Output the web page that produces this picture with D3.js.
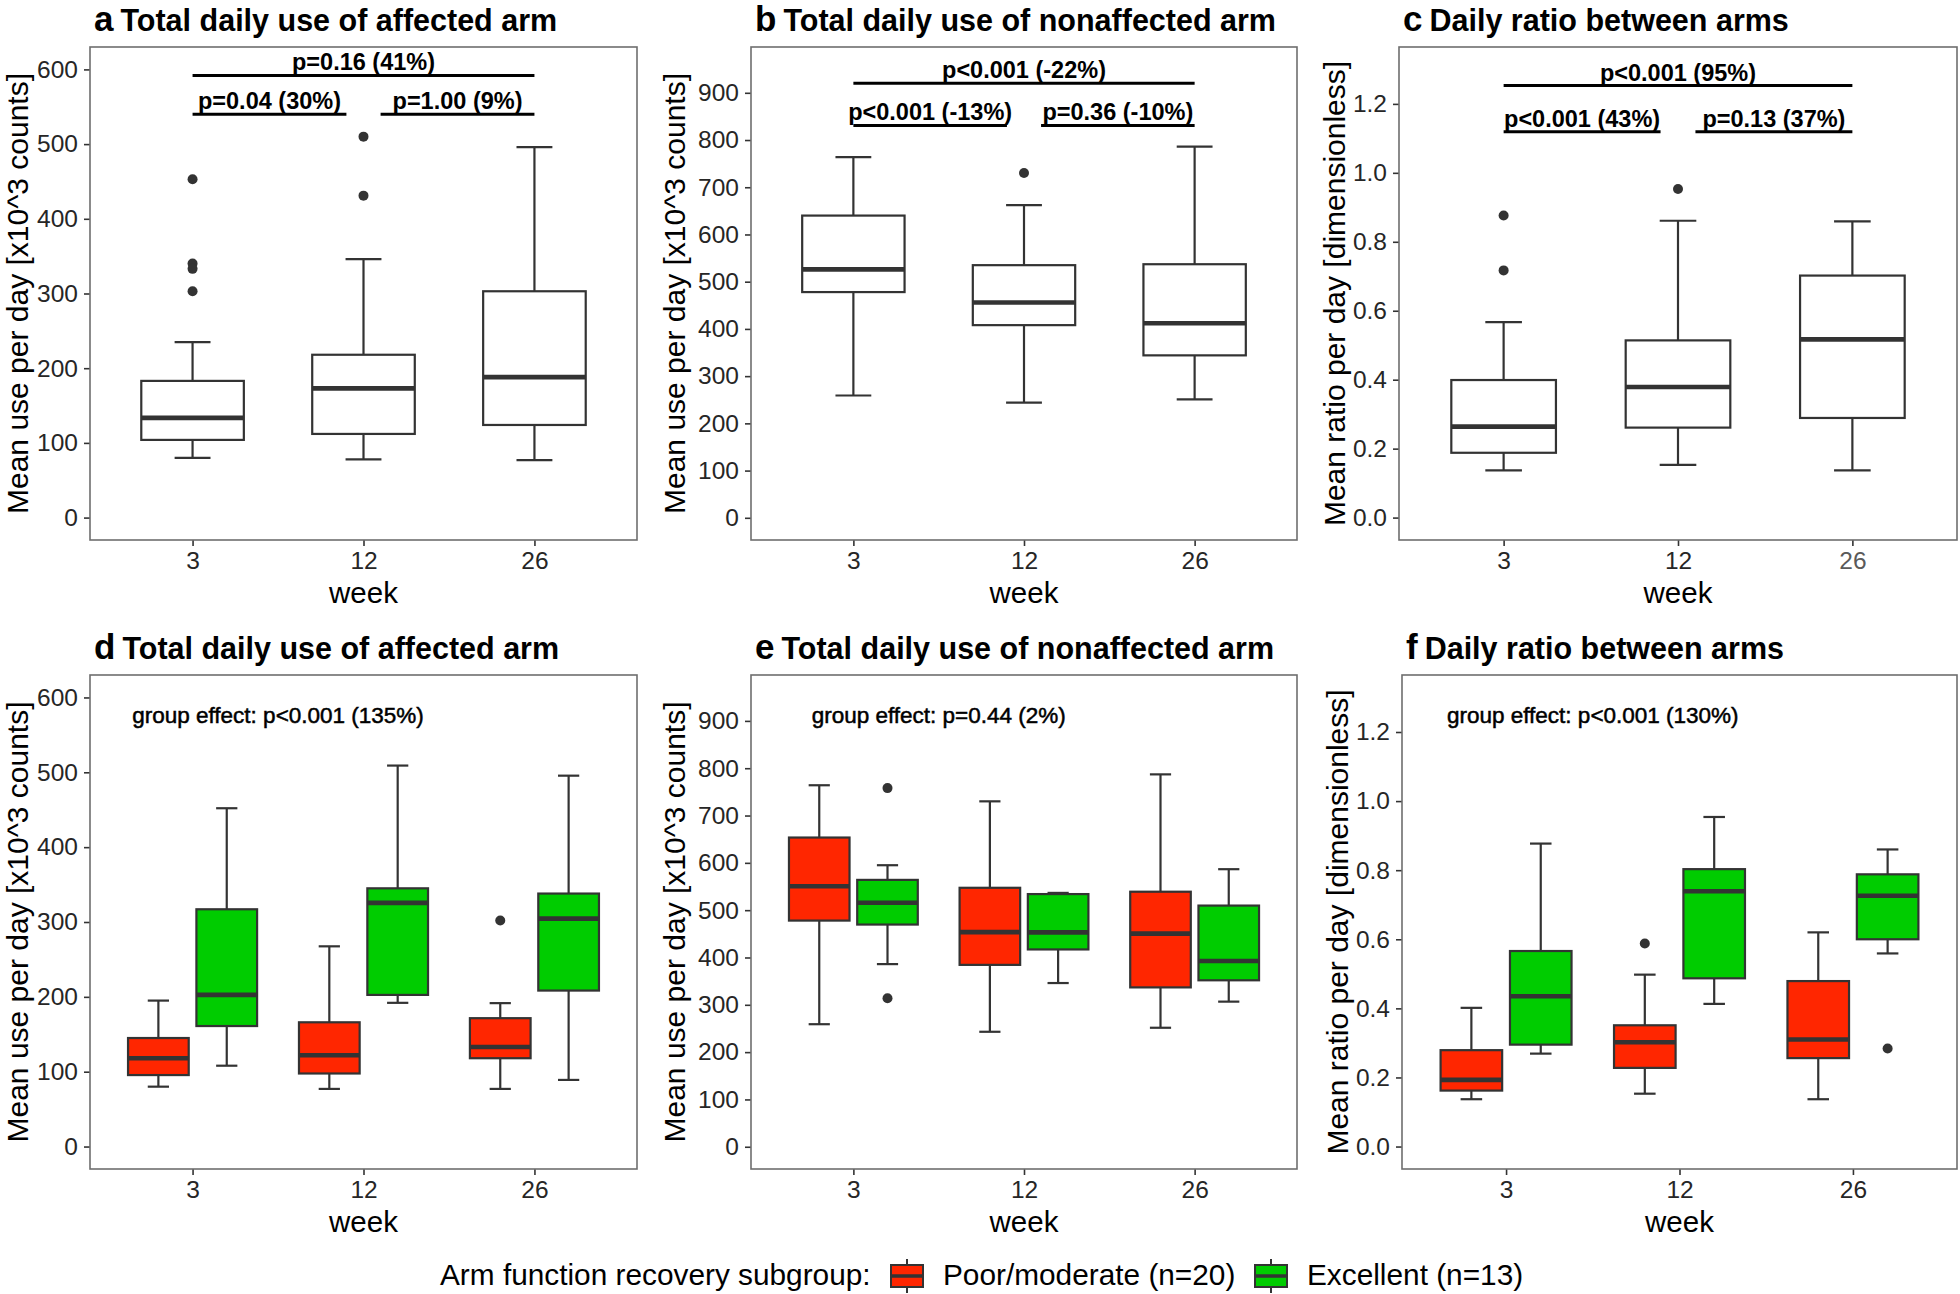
<!DOCTYPE html>
<html><head><meta charset="utf-8">
<script src="https://cdn.jsdelivr.net/npm/d3@7"></script>
<style>
body{margin:0;background:#fff;}
text{font-family:"Liberation Sans",Arial,Helvetica,sans-serif;}
</style></head>
<body><svg id="chart" width="1960" height="1294"></svg>
<script>
// ---------------- DATA ----------------
const weeks = ["3", "12", "26"];
const groups = ["Poor/moderate (n=20)", "Excellent (n=13)"];
const groupColors = ["#ff2600", "#00cc00"];

// five-number summaries per week: [low whisker, Q1, median, Q3, high whisker]
const affectedAll = [[80, 104, 133.5, 183, 235], [78, 112, 173, 218, 346], [77, 124, 188, 303, 496]];
const affectedAllOut = [[453, 340, 333, 303], [510, 431], []];
const nonaffectedAll = [[259, 478, 526, 640, 764], [244, 408, 456, 535, 662], [251, 344, 412, 537, 786]];
const nonaffectedAllOut = [[], [730], []];
const ratioAll = [[0.137, 0.188, 0.264, 0.399, 0.567], [0.153, 0.261, 0.379, 0.514, 0.861], [0.137, 0.289, 0.517, 0.702, 0.859]];
const ratioAllOut = [[0.876, 0.717], [0.953], []];

const affectedPoor = [[80, 95.5, 118, 145, 195], [77, 97.6, 122, 166, 267.5], [77, 118, 133, 171.5, 191.6]];
const affectedPoorOut = [[], [], [302]];
const affectedExc = [[108, 161, 202.6, 317, 452], [192, 202.6, 325.6, 345, 509], [89, 208.4, 304.5, 338, 495.5]];
const affectedExcOut = [[], [], []];
const nonaffectedPoor = [[259, 478, 550.7, 653.5, 764], [243, 384.4, 453.7, 547.3, 730], [251.5, 336.8, 450.4, 539, 787]];
const nonaffectedPoorOut = [[], [], []];
const nonaffectedExc = [[386, 469.6, 515.6, 564, 595], [346, 417, 453, 534, 536.5], [306.7, 351.8, 392.7, 509.7, 586.6]];
const nonaffectedExcOut = [[758, 314], [], []];
const ratioPoor = [[0.137, 0.162, 0.193, 0.279, 0.4015], [0.153, 0.2277, 0.302, 0.351, 0.4976], [0.137, 0.256, 0.31, 0.479, 0.62]];
const ratioPoorOut = [[], [0.588], []];
const ratioExc = [[0.269, 0.295, 0.435, 0.566, 0.877], [0.413, 0.487, 0.739, 0.803, 0.954], [0.559, 0.6, 0.726, 0.788, 0.86]];
const ratioExcOut = [[], [], [0.284]];

const countTicks = [0, 100, 200, 300, 400, 500, 600];
const countTicksNon = [0, 100, 200, 300, 400, 500, 600, 700, 800, 900];
const ratioTicks = [0, 0.2, 0.4, 0.6, 0.8, 1.0, 1.2];

// pairwise comparison annotations: [x from, x to, y line, label, label x]
const compA = [[0, 2, 592, "p=0.16 (41%)", 1], [0, 0.9, 540, "p=0.04 (30%)", 0.45], [1.1, 2, 540, "p=1.00 (9%)", 1.55]];
const compB = [[0, 2, 920, "p<0.001 (-22%)", 1], [0, 0.9, 831, "p<0.001 (-13%)", 0.45], [1.1, 2, 831, "p=0.36 (-10%)", 1.55]];
const compC = [[0, 2, 1.253, "p<0.001 (95%)", 1], [0, 0.9, 1.119, "p<0.001 (43%)", 0.45], [1.1, 2, 1.119, "p=0.13 (37%)", 1.55]];
const groupEffects = ["group effect: p<0.001 (135%)", "group effect: p=0.44 (2%)", "group effect: p<0.001 (130%)"];

// ---------------- LAYOUT ----------------
const svg = d3.select("#chart");
const colBox = [[90, 637], [751, 1297], [1399, 1957]];
const colBox2 = [[90, 637], [751, 1297], [1402, 1957]];
const rows = [{top: 47, bottom: 540}, {top: 675, bottom: 1169}];
const FONT = '"Liberation Sans",Arial,Helvetica,sans-serif';
const DARK = "#333333";

const panels = [
  {tag: "a", title: "Total daily use of affected arm", col: 0, row: 0, dom: [-30, 630], ticks: countTicks, fmt: d => d, ylab: "Mean use per day [x10^3 counts]",
   series: [{stats: affectedAll, out: affectedAllOut, fill: "#ffffff"}], comps: compA},
  {tag: "b", title: "Total daily use of nonaffected arm", col: 1, row: 0, dom: [-47, 997], ticks: countTicksNon, fmt: d => d, ylab: "Mean use per day [x10^3 counts]",
   series: [{stats: nonaffectedAll, out: nonaffectedAllOut, fill: "#ffffff"}], comps: compB},
  {tag: "c", title: "Daily ratio between arms", col: 2, row: 0, dom: [-0.065, 1.365], ticks: ratioTicks, fmt: d3.format(".1f"), ylab: "Mean ratio per day [dimensionless]",
   series: [{stats: ratioAll, out: ratioAllOut, fill: "#ffffff"}], comps: compC},
  {tag: "d", title: "Total daily use of affected arm", col: 0, row: 1, dom: [-30, 630], ticks: countTicks, fmt: d => d, ylab: "Mean use per day [x10^3 counts]",
   series: [{stats: affectedPoor, out: affectedPoorOut, fill: groupColors[0]}, {stats: affectedExc, out: affectedExcOut, fill: groupColors[1]}], effect: groupEffects[0], effY: 576},
  {tag: "e", title: "Total daily use of nonaffected arm", col: 1, row: 1, dom: [-47, 997], ticks: countTicksNon, fmt: d => d, ylab: "Mean use per day [x10^3 counts]",
   series: [{stats: nonaffectedPoor, out: nonaffectedPoorOut, fill: groupColors[0]}, {stats: nonaffectedExc, out: nonaffectedExcOut, fill: groupColors[1]}], effect: groupEffects[1], effY: 912},
  {tag: "f", title: "Daily ratio between arms", col: 2, row: 1, dom: [-0.065, 1.365], ticks: ratioTicks, fmt: d3.format(".1f"), ylab: "Mean ratio per day [dimensionless]",
   series: [{stats: ratioPoor, out: ratioPoorOut, fill: groupColors[0]}, {stats: ratioExc, out: ratioExcOut, fill: groupColors[1]}], effect: groupEffects[2], effY: 1.25}
];

panels.forEach(p => {
  const [L, R] = (p.row === 0 ? colBox : colBox2)[p.col];
  const T = rows[p.row].top, B = rows[p.row].bottom;
  const x = d3.scaleLinear().domain([-0.6, 2.6]).range([L, R]);
  const y = d3.scaleLinear().domain(p.dom).range([B, T]);
  const g = svg.append("g");

  // title
  const tt = g.append("text").attr("x", L + 4).attr("y", T - 16).attr("fill", "#000").style("font-weight", "bold");
  tt.append("tspan").style("font-size", "35px").text(p.tag);
  tt.append("tspan").attr("dx", 7).style("font-size", "30.5px").text(p.title);

  // axes
  const ya = g.append("g").attr("transform", `translate(${L},0)`)
    .call(d3.axisLeft(y).tickValues(p.ticks).tickFormat(p.fmt).tickSize(6).tickPadding(6));
  const xa = g.append("g").attr("transform", `translate(0,${B})`)
    .call(d3.axisBottom(x).tickValues([0, 1, 2]).tickFormat(i => weeks[i]).tickSize(6).tickPadding(6));
  [ya, xa].forEach(a => {
    a.select(".domain").remove();
    a.selectAll(".tick line").attr("stroke", DARK).attr("stroke-width", 1.6);
    a.selectAll(".tick text").attr("fill", "#262626").style("font-size", "24.5px").style("font-family", FONT);
  });
  if (p.tag === "c") xa.selectAll(".tick text").filter(i => i === 2).attr("fill", "#5a5a5a");

  // axis titles
  g.append("text").attr("x", (L + R) / 2).attr("y", B + 63).attr("text-anchor", "middle")
    .style("font-size", "29.5px").attr("fill", "#000").text("week");
  const yOff = p.col === 0 ? 62 : (p.col === 1 ? 66 : 54.5);
  g.append("text").attr("transform", `translate(${L - yOff},${(T + B) / 2}) rotate(-90)`)
    .attr("text-anchor", "middle").style("font-size", "30px").attr("fill", "#000").text(p.ylab);

  // boxes
  const n = p.series.length;
  const offs = n === 1 ? [0] : [-0.2, 0.2];
  const bw = n === 1 ? 0.6 : 0.355;
  p.series.forEach((s, si) => {
    s.stats.forEach((st, wi) => {
      const cx = wi + offs[si];
      const [lo, q1, med, q3, hi] = st;
      const half = bw / 2, cap = bw * 0.35 / 2;
      g.append("line").attr("x1", x(cx)).attr("x2", x(cx)).attr("y1", y(q3)).attr("y2", y(hi)).attr("stroke", DARK).attr("stroke-width", 2.2);
      g.append("line").attr("x1", x(cx)).attr("x2", x(cx)).attr("y1", y(q1)).attr("y2", y(lo)).attr("stroke", DARK).attr("stroke-width", 2.2);
      g.append("line").attr("x1", x(cx - cap)).attr("x2", x(cx + cap)).attr("y1", y(hi)).attr("y2", y(hi)).attr("stroke", DARK).attr("stroke-width", 2.2);
      g.append("line").attr("x1", x(cx - cap)).attr("x2", x(cx + cap)).attr("y1", y(lo)).attr("y2", y(lo)).attr("stroke", DARK).attr("stroke-width", 2.2);
      g.append("rect").attr("x", x(cx - half)).attr("width", x(cx + half) - x(cx - half))
        .attr("y", y(q3)).attr("height", y(q1) - y(q3)).attr("fill", s.fill).attr("stroke", DARK).attr("stroke-width", 2.2);
      g.append("line").attr("x1", x(cx - half)).attr("x2", x(cx + half)).attr("y1", y(med)).attr("y2", y(med)).attr("stroke", DARK).attr("stroke-width", 4.6);
      s.out[wi].forEach(v => {
        g.append("circle").attr("cx", x(cx)).attr("cy", y(v)).attr("r", 5).attr("fill", DARK);
      });
    });
  });

  // comparisons
  (p.comps || []).forEach(cp => {
    g.append("line").attr("x1", x(cp[0])).attr("x2", x(cp[1])).attr("y1", y(cp[2])).attr("y2", y(cp[2])).attr("stroke", "#000").attr("stroke-width", 3);
    g.append("text").attr("x", x(cp[4])).attr("y", y(cp[2]) - 5).attr("text-anchor", "middle")
      .style("font-size", "23.5px").style("font-weight", "bold").attr("fill", "#000").text(cp[3]);
  });
  if (p.effect) {
    g.append("text").attr("x", x(0.5)).attr("y", y(p.effY)).attr("dy", "0.35em").attr("text-anchor", "middle")
      .style("font-size", "22.5px").attr("fill", "#000").attr("stroke", "#000").attr("stroke-width", 0.5).text(p.effect);
  }

  // border
  g.append("rect").attr("x", L).attr("y", T).attr("width", R - L).attr("height", B - T)
    .attr("fill", "none").attr("stroke", "#6e6e6e").attr("stroke-width", 1.6);
});

// ---------------- LEGEND ----------------
const leg = svg.append("g");
const legY = 1285;
leg.append("text").attr("x", 440).attr("y", legY).style("font-size", "29.8px").attr("fill", "#000").text("Arm function recovery subgroup:");
const keyX = [891, 1255];
const labX = [943, 1307];
const keyW = 32;
groups.forEach((gname, i) => {
  const kx = keyX[i], kc = 1276;
  leg.append("line").attr("x1", kx + keyW / 2).attr("x2", kx + keyW / 2).attr("y1", kc - 17).attr("y2", kc + 17).attr("stroke", DARK).attr("stroke-width", 2);
  leg.append("rect").attr("x", kx).attr("y", kc - 11).attr("width", keyW).attr("height", 22).attr("fill", groupColors[i]).attr("stroke", DARK).attr("stroke-width", 2);
  leg.append("line").attr("x1", kx).attr("x2", kx + keyW).attr("y1", kc).attr("y2", kc).attr("stroke", DARK).attr("stroke-width", 3.5);
  leg.append("text").attr("x", labX[i]).attr("y", legY).style("font-size", "29.8px").attr("fill", "#000").text(gname);
});
</script></body></html>
